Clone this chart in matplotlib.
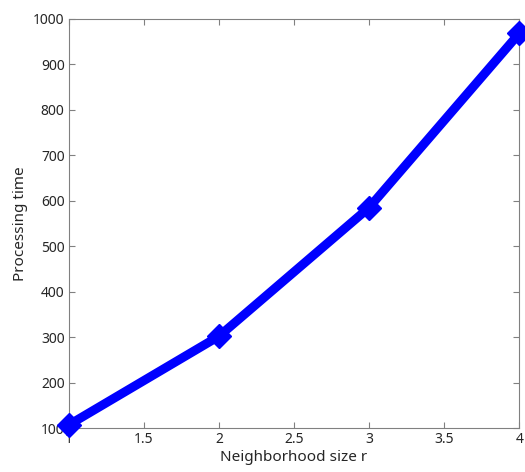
import matplotlib
matplotlib.use("Agg")
import matplotlib.pyplot as plt

# neighborhood size vs processing time
radius = [1, 2, 3, 4]
proc_time = [107, 302, 585, 968]

plt.rcParams["font.family"] = ["Noto Sans", "DejaVu Sans"]

fig = plt.figure(figsize=(5.25, 4.72), dpi=100)
ax = fig.add_axes([0.131, 0.093, 0.858, 0.867])

ax.plot(radius, proc_time, color="#0000ff", linewidth=6.5, marker="D",
        markersize=12, solid_joinstyle="miter", clip_on=False, zorder=3)

ax.set_xlim(1, 4)
ax.set_ylim(100, 1000)
ax.set_xticks([1, 1.5, 2, 2.5, 3, 3.5, 4])
ax.set_xticklabels(["1", "1.5", "2", "2.5", "3", "3.5", "4"])
ax.set_yticks(range(100, 1001, 100))

ax.set_xlabel("Neighborhood size r", fontsize=11, color="#262626", labelpad=2)
ax.set_ylabel("Processing time", fontsize=11, color="#262626", labelpad=4)

for s in ax.spines.values():
    s.set_color("#808080")
    s.set_linewidth(0.8)
ax.tick_params(direction="in", top=True, right=True, length=4, width=0.8,
               color="#808080", labelsize=10, labelcolor="#262626", pad=3)

fig.savefig("out.png", dpi=100)
